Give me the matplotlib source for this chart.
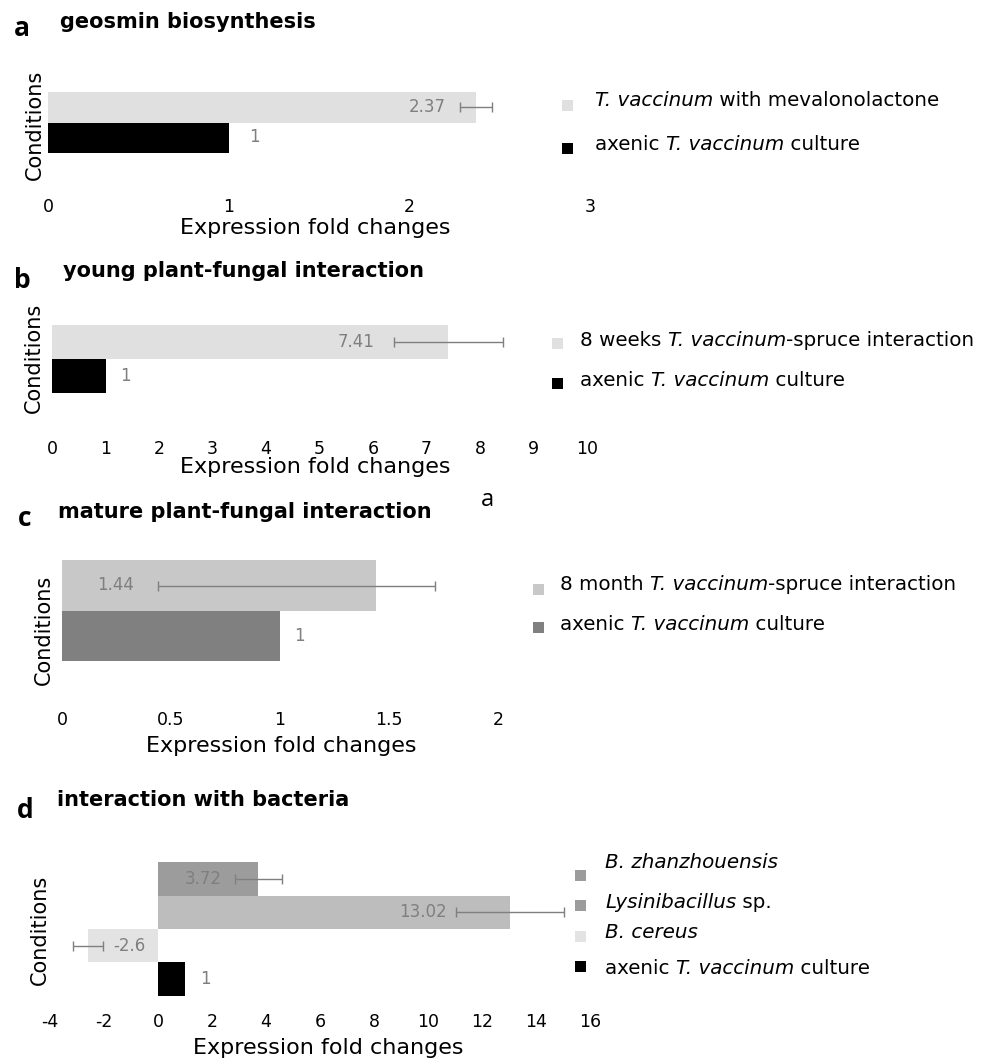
import matplotlib
matplotlib.use("Agg")
import matplotlib.pyplot as plt
from matplotlib.patches import Rectangle

plt.rcParams['font.family'] = ['DejaVu Sans']

W, H = 988, 1062

# ---------------- data ----------------
# panel a
a_conditions = ["axenic T. vaccinum culture", "T. vaccinum with mevalonolactone"]
a_values = [1, 2.37]
a_err_lo = [0, 0.09]
a_err_hi = [0, 0.09]
a_labels = ["1", "2.37"]
a_colors = ["#000000", "#e0e0e0"]
a_legend = [[("T. vaccinum", "italic"), (" with mevalonolactone", "normal")],
            [("axenic ", "normal"), ("T. vaccinum", "italic"), (" culture", "normal")]]
a_ticks = [0, 1, 2, 3]

# panel b
b_conditions = ["axenic T. vaccinum culture", "8 weeks T. vaccinum-spruce interaction"]
b_values = [1, 7.41]
b_err_lo = [0, 1.02]
b_err_hi = [0, 1.02]
b_labels = ["1", "7.41"]
b_colors = ["#000000", "#e0e0e0"]
b_legend = [[("8 weeks ", "normal"), ("T. vaccinum", "italic"), ("-spruce interaction", "normal")],
            [("axenic ", "normal"), ("T. vaccinum", "italic"), (" culture", "normal")]]
b_ticks = [0, 1, 2, 3, 4, 5, 6, 7, 8, 9, 10]

# panel c
c_conditions = ["axenic T. vaccinum culture", "8 month T. vaccinum-spruce interaction"]
c_values = [1, 1.44]
c_err_lo = [0, 1.0]
c_err_hi = [0, 0.27]
c_labels = ["1", "1.44"]
c_colors = ["#808080", "#c8c8c8"]
c_legend = [[("8 month ", "normal"), ("T. vaccinum", "italic"), ("-spruce interaction", "normal")],
            [("axenic ", "normal"), ("T. vaccinum", "italic"), (" culture", "normal")]]
c_ticks = [0, 0.5, 1, 1.5, 2]
c_ticklabels = ["0", "0.5", "1", "1.5", "2"]

# panel d
d_conditions = ["axenic T. vaccinum culture", "B. cereus", "Lysinibacillus sp.", "B. zhanzhouensis"]
d_values = [1, -2.6, 13.02, 3.72]
d_err_lo = [0, 0.56, 2.0, 0.87]
d_err_hi = [0, 0.56, 2.0, 0.87]
d_labels = ["1", "-2.6", "13.02", "3.72"]
d_colors = ["#000000", "#e3e3e3", "#bdbdbd", "#9c9c9c"]
d_legend_colors = ["#9c9c9c", "#9c9c9c", "#e3e3e3", "#000000"]
d_legend = [[("B. zhanzhouensis", "italic")],
            [("Lysinibacillus", "italic"), (" sp.", "normal")],
            [("B. cereus", "italic")],
            [("axenic ", "normal"), ("T. vaccinum", "italic"), (" culture", "normal")]]
d_ticks = [-4, -2, 0, 2, 4, 6, 8, 10, 12, 14, 16]

fig = plt.figure(figsize=(W / 100, H / 100), dpi=100)
renderer = fig.canvas.get_renderer()


def fx(x):
    return x / W


def fy(y):
    return 1 - y / H


def text_width(s, style, fontsize):
    def w(t):
        tt = fig.text(0, 0, t, fontsize=fontsize, style=style)
        ww = tt.get_window_extent(renderer).width
        tt.remove()
        return ww
    return w("x" + s + "x") - w("xx")


def rich_text(x_px, y_px, segments, fontsize):
    x = x_px
    for s, style in segments:
        fig.text(fx(x), fy(y_px), s, fontsize=fontsize, style=style, ha='left', va='center')
        x += text_width(s, style, fontsize)


def make_panel(x0, x1, xlim, top, bottom, y0_center, unit, values, err_lo, err_hi,
               colors, labels, label_gaps, ticks, ticklabels, tick_y, xlabel_xy,
               cond_xy, label_color="#7f7f7f"):
    ax = fig.add_axes([fx(x0), fy(bottom), (x1 - x0) / W, (bottom - top) / H])
    n = len(values)
    pos = list(range(n))
    ax.barh(pos, values, height=1.0, color=colors, edgecolor='none')
    for i in range(n):
        if err_lo[i] > 0 or err_hi[i] > 0:
            ax.errorbar(values[i], pos[i], xerr=[[err_lo[i]], [err_hi[i]]], fmt='none',
                        ecolor='#7f7f7f', elinewidth=1.0, capsize=3.3, capthick=1.0)
    for i in range(n):
        gap = label_gaps[i]
        v = values[i]
        if labels[i] == "1":
            ax.annotate(labels[i], xy=(v, pos[i]), xytext=(gap * 0.72, 0),
                        textcoords='offset points', ha='left', va='center',
                        fontsize=12, color=label_color)
        elif v < 0:
            ax.annotate(labels[i], xy=(v + err_hi[i], pos[i]), xytext=(gap * 0.72, 0),
                        textcoords='offset points', ha='left', va='center',
                        fontsize=12, color=label_color)
        else:
            ax.annotate(labels[i], xy=(v - err_lo[i], pos[i]), xytext=(-gap * 0.72, 0),
                        textcoords='offset points', ha='right', va='center',
                        fontsize=12, color=label_color)
    ax.set_xlim(*xlim)
    ax.set_ylim((y0_center - bottom) / unit, (y0_center - top) / unit)
    ax.set_xticks(ticks)
    ax.set_xticklabels(ticklabels)
    ax.set_yticks([])
    ax.tick_params(axis='x', length=0, labelsize=12.5, pad=(tick_y - 9 - bottom) * 0.72)
    for s in ax.spines.values():
        s.set_visible(False)
    ax.patch.set_alpha(0)
    ax.set_xlabel("Expression fold changes", fontsize=16)
    ax.xaxis.label.set_va('center')
    ax.xaxis.set_label_coords((xlabel_xy[0] - x0) / (x1 - x0),
                              (bottom - xlabel_xy[1]) / (bottom - top))
    ax.set_ylabel("Conditions", fontsize=15)
    ax.yaxis.label.set_va('center')
    ax.yaxis.set_label_coords((cond_xy[0] - x0) / (x1 - x0),
                              (bottom - cond_xy[1]) / (bottom - top))
    return ax


def legend(items, colors, marker_x, marker_ys, text_x, text_ys, size=11, fontsize=14.3):
    for segs, col, my, ty in zip(items, colors, marker_ys, text_ys):
        fig.add_artist(Rectangle((fx(marker_x - size / 2), fy(my + size / 2)), size / W, size / H,
                                 transform=fig.transFigure, facecolor=col, edgecolor='none'))
        rich_text(text_x, ty, segs, fontsize)


def title(letter, lx, ly, text, tx, ty):
    fig.text(fx(lx), fy(ly), letter, fontsize=19, fontweight='bold', family='Open Sans',
             ha='center', va='center')
    fig.text(fx(tx), fy(ty), text, fontsize=15, fontweight='bold', ha='left', va='center')


# ---------------- panel a ----------------
make_panel(48, 590, (0, 3), 60, 190, 137.5, 30, a_values, a_err_lo, a_err_hi,
           a_colors, a_labels, [20, 14], a_ticks, [str(t) for t in a_ticks], 207,
           (315, 228), (35, 125))
title("a", 22, 28, "geosmin biosynthesis", 60, 22)
legend(a_legend, a_colors[::-1], 567, [105, 148], 595, [101, 144])

# ---------------- panel b ----------------
make_panel(52, 587, (0, 10), 310, 435, 376.5, 34, b_values, b_err_lo, b_err_hi,
           b_colors, b_labels, [15, 19], b_ticks, [str(t) for t in b_ticks], 449,
           (315, 467), (34, 358))
title("b", 22, 280, "young plant-fungal interaction", 63, 271)
legend(b_legend, b_colors[::-1], 557, [343, 383], 580, [341, 380])

# ---------------- panel c ----------------
make_panel(62, 498, (0, 2), 545, 700, 636, 50.5, c_values, c_err_lo, c_err_hi,
           c_colors, c_labels, [14, 24], c_ticks, c_ticklabels, 720,
           (281, 746), (44, 630))
title("c", 25, 518, "mature plant-fungal interaction", 58, 512)
fig.text(fx(487), fy(500), "a", fontsize=17, family='Open Sans', ha='center', va='center')
legend(c_legend, c_colors[::-1], 538, [589, 627], 560, [585, 625])

# ---------------- panel d ----------------
make_panel(50, 590, (-4, 16), 850, 1005, 979, 33.3, d_values, d_err_lo, d_err_hi,
           d_colors, d_labels, [15, 10, 9, 13], d_ticks, [str(t) for t in d_ticks], 1022,
           (328, 1048), (40, 930))
title("d", 25, 810, "interaction with bacteria", 57, 800)
legend(d_legend, d_legend_colors, 580, [875, 905, 936, 966], 605, [863, 903, 933, 969])

fig.savefig("out.png", dpi=100)
